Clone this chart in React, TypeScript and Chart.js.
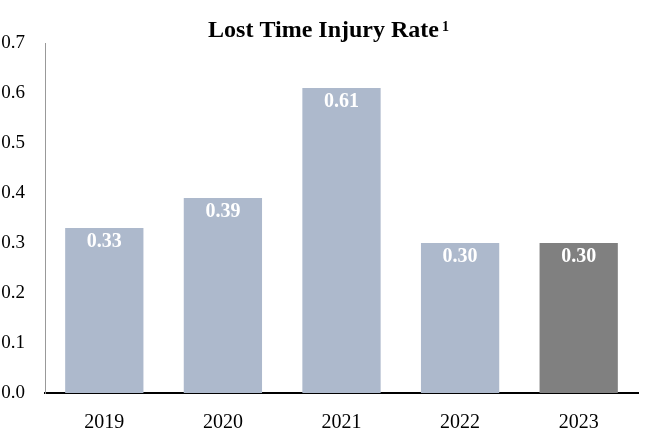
import React, { useEffect, useRef } from "react";
import { Chart, registerables } from "chart.js";

Chart.register(...registerables);

const categories = ["2019", "2020", "2021", "2022", "2023"];
const values = [0.33, 0.39, 0.61, 0.3, 0.3];
const barColors = ["#adb9cc", "#adb9cc", "#adb9cc", "#adb9cc", "#808080"];
const titleText = "Lost Time Injury Rate";
const titleSup = "1";
const FONT = "'Liberation Serif', 'Times New Roman', serif";

const titlePlugin = {
  id: "customTitle",
  afterDraw(chart: any) {
    const ctx = chart.ctx;
    ctx.save();
    ctx.fillStyle = "#000";
    ctx.textBaseline = "alphabetic";
    ctx.font = `bold 24px ${FONT}`;
    const w1 = ctx.measureText(titleText).width;
    ctx.font = `bold 14px ${FONT}`;
    const w2 = ctx.measureText(titleSup).width;
    const total = w1 + 3 + w2;
    const x0 = chart.width / 2 - total / 2;
    ctx.textAlign = "left";
    ctx.font = `bold 24px ${FONT}`;
    ctx.fillText(titleText, x0, 37);
    ctx.font = `bold 14px ${FONT}`;
    ctx.fillText(titleSup, x0 + w1 + 3, 31);
    ctx.restore();
  },
};

const labelPlugin = {
  id: "barLabels",
  afterDatasetsDraw(chart: any) {
    const ctx = chart.ctx;
    const meta = chart.getDatasetMeta(0);
    ctx.save();
    ctx.fillStyle = "#ffffff";
    ctx.font = `bold 20px ${FONT}`;
    ctx.textAlign = "center";
    ctx.textBaseline = "middle";
    meta.data.forEach((bar: any, i: number) => {
      ctx.fillText(values[i].toFixed(2), bar.x, bar.y + 14);
    });
    ctx.restore();
  },
};

export default function App() {
  const ref = useRef<HTMLCanvasElement>(null);
  useEffect(() => {
    document.body.style.margin = "0";
    const chart = new Chart(ref.current!, {
      type: "bar",
      data: {
        labels: categories,
        datasets: [
          {
            data: values,
            backgroundColor: barColors,
            categoryPercentage: 0.66,
            barPercentage: 1,
          },
        ],
      },
      options: {
        animation: false,
        responsive: false,
        maintainAspectRatio: false,
        layout: { padding: { top: 43, right: 19, left: 0, bottom: 0 } },
        plugins: {
          legend: { display: false },
          title: { display: false },
          tooltip: { enabled: false },
        },
        scales: {
          x: {
            grid: { display: false, drawTicks: false },
            border: { display: true, color: "#000000", width: 2 },
            ticks: {
              color: "#000",
              font: { family: FONT, size: 20 },
              padding: 18,
            },
            afterFit: (s: any) => {
              s.height = 41;
            },
          },
          y: {
            min: 0,
            max: 0.7,
            grid: { display: false, drawTicks: false },
            border: { display: true, color: "#999999", width: 1 },
            ticks: {
              stepSize: 0.1,
              color: "#000",
              font: { family: FONT, size: 19 },
              padding: 20,
              callback: (v: any) => Number(v).toFixed(1),
            },
            afterFit: (s: any) => {
              s.width = 45;
            },
          },
        },
      },
      plugins: [titlePlugin, labelPlugin],
    });
    return () => chart.destroy();
  }, []);
  return (
    <div style={{ position: "fixed", left: 0, top: 0, width: 657, height: 434, background: "#fff" }}>
      <canvas ref={ref} width={657} height={434} style={{ display: "block" }} />
    </div>
  );
}
